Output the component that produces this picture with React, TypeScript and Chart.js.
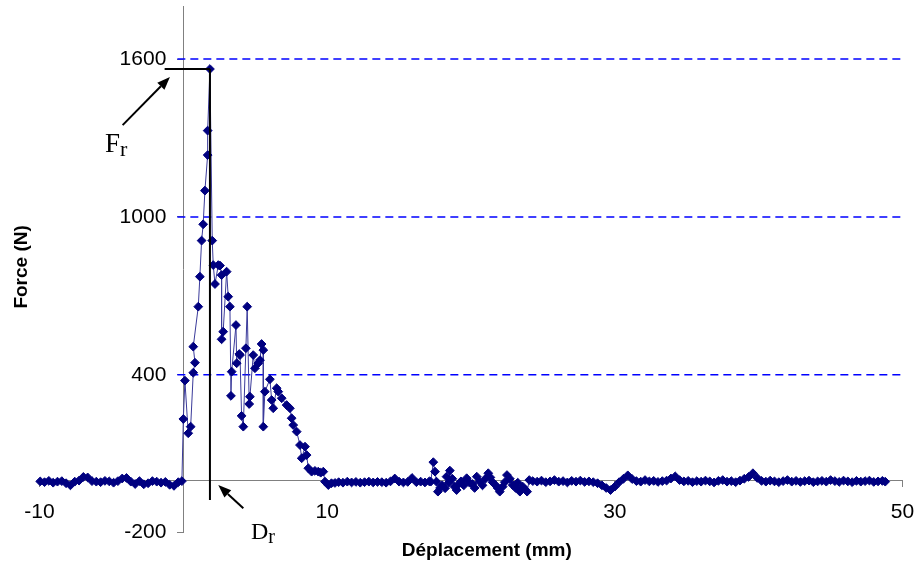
import React, { useEffect, useRef } from 'react';
import { Chart, registerables } from 'chart.js';

Chart.register(...registerables);

// ---- Data (displacement in mm, force in N) ----
const preX = [-9.95, -9.65, -9.35, -9.05, -8.75, -8.45, -8.15, -7.85, -7.55, -7.25, -6.95, -6.65, -6.35, -6.05, -5.75, -5.45, -5.15, -4.85, -4.55, -4.25, -3.95, -3.65, -3.35, -3.05, -2.75, -2.45, -2.15, -1.85, -1.55, -1.25, -0.95, -0.65, -0.35, -0.1];
const preY = [-5, -8, -3, -10, -6, -4, -12, -20, -6, -2, 12, 10, -4, -6, -8, -3, -5, -10, -4, 6, 8, -6, -15, -4, -16, -12, -4, -6, -10, -7, -18, -22, -8, -4];

const loadX = [0.0, 0.11, 0.34, 0.51, 0.69, 0.81, 0.69, 1.04, 1.15, 1.27, 1.38, 1.5, 1.69, 1.69, 1.85, 2.01, 2.08, 2.2, 2.43, 2.55, 2.66, 2.66, 2.77, 3.01, 3.12, 3.24, 3.31, 3.36, 3.66, 3.71, 3.89, 3.94, 4.05, 4.17, 4.35, 4.44, 4.58, 4.63, 4.86, 4.98, 5.21, 5.33, 5.44, 5.56, 5.56, 5.67, 6.02, 6.14, 6.25, 6.49, 6.6, 6.84, 7.18, 7.41, 7.53, 7.64, 7.88, 8.11, 8.23, 8.46, 8.57, 8.69, 8.92, 9.15, 9.38, 9.55, 9.73, 9.85, 10.08, 10.3, 10.54];
const loadY = [232, 378, 178, 203, 408, 446, 507, 659, 773, 910, 972, 1100, 1235, 1328, 1562, 910, 817, 745, 817, 815, 779, 535, 564, 792, 697, 659, 320, 412, 589, 444, 479, 475, 244, 203, 501, 659, 289, 317, 475, 425, 444, 456, 517, 494, 203, 336, 383, 304, 273, 349, 336, 311, 285, 273, 235, 209, 184, 133, 83, 127, 95, 45, 32, 35, 32, 28, 32, -6, -19, -12, -11];

const flatX = [10.8, 11.1, 11.4, 11.7, 12.0, 12.3, 12.6, 12.9, 13.2, 13.5, 13.8, 14.1, 14.4, 14.7, 15.0, 15.3, 15.6, 15.9, 16.2, 16.5, 16.8, 17.1];
const flatY = [-8, -10, -6, -9, -7, -10, -8, -6, -9, -7, -8, -10, -5, 6, -6, -9, -7, 8, -8, -6, -9, -5];

const noiseX = [17.2, 17.38, 17.5, 17.6, 17.7, 17.85, 18.0, 18.2, 18.3, 18.45, 18.53, 18.7, 18.85, 19.0, 19.15, 19.3, 19.5, 19.7, 19.9, 20.1, 20.25, 20.4, 20.6, 20.8, 21.0, 21.2, 21.35, 21.5, 21.7, 21.85, 22.0, 22.2, 22.35, 22.5, 22.7, 22.9, 23.1, 23.25, 23.4, 23.6, 23.75, 23.9, 24.05];
const noiseY = [-6, 68, 32, -6, -44, -30, -20, -31, 13, -10, 36, 5, -25, -38, -15, -5, -20, 7, -10, -15, -30, 13, -6, -20, 5, 26, 10, -8, -19, -30, -44, -25, -8, 19, 5, -19, -30, -10, -44, -25, -35, -44, 0];

const tailX = [24.3, 24.6, 24.9, 25.2, 25.5, 25.8, 26.1, 26.4, 26.7, 27.0, 27.3, 27.6, 27.9, 28.2, 28.5, 28.8, 29.1, 29.4, 29.7, 30.0, 30.3, 30.6, 30.9, 31.2, 31.5, 31.8, 32.1, 32.4, 32.7, 33.0, 33.3, 33.6, 33.9, 34.2, 34.5, 34.8, 35.1, 35.4, 35.7, 36.0, 36.3, 36.6, 36.9, 37.2, 37.5, 37.8, 38.1, 38.4, 38.7, 39.0, 39.3, 39.6, 39.9, 40.2, 40.5, 40.8, 41.1, 41.4, 41.7, 42.0, 42.3, 42.6, 42.9, 43.2, 43.5, 43.8, 44.1, 44.4, 44.7, 45.0, 45.3, 45.6, 45.9, 46.2, 46.5, 46.8, 47.1, 47.4, 47.7, 48.0, 48.3, 48.6, 48.8];
const tailY = [-4, -6, -2, -8, -5, 0, -6, -4, -9, -3, -6, -2, -7, -5, -8, -12, -20, -30, -38, -25, -8, 5, 18, 4, -4, -6, 0, -5, -3, -7, -4, -2, 6, 14, 0, -5, -3, -8, -4, -6, -2, -5, -9, -3, 0, -6, -4, -8, -2, 5, 12, 26, 8, -3, -6, -2, -5, -8, -4, 0, -6, -3, -7, -4, -2, -8, -5, -3, -6, 0, -4, -7, -2, -5, -8, -3, -6, -4, -2, -7, -5, -3, -6];

// ---- Axes ----
const xTickValues = [-10, 10, 30, 50];
const yTickValues = [-200, 400, 1000, 1600];
const gridValues = [400, 1000, 1600];

// ---- Annotations (data coordinates) ----
const peakX = 1.85; // D_r
const peakY = 1562; // F_r
const frLineStartX = -1.3;
const drLineEndY = -76;
const frArrow = { from: [-4.22, 1349], to: [-0.93, 1532] };
const drArrow = { from: [4.17, -107], to: [2.43, -19] };
const frLabel = [-5.45, 1247];
const drLabel = [4.7, -224];

const xTitle = 'Déplacement (mm)';
const yTitle = 'Force (N)';

const SANS = '"Liberation Sans", Arial, sans-serif';
const SERIF = '"Liberation Serif", "Times New Roman", serif';

function toPoints(xs: number[], ys: number[]) {
  return xs.map((x, i) => ({ x, y: ys[i] }));
}

function drawArrow(ctx: CanvasRenderingContext2D, x1: number, y1: number, x2: number, y2: number) {
  const ang = Math.atan2(y2 - y1, x2 - x1);
  const len = 13;
  const hw = 5;
  const bx = x2 - len * Math.cos(ang);
  const by = y2 - len * Math.sin(ang);
  ctx.beginPath();
  ctx.moveTo(x1, y1);
  ctx.lineTo(bx, by);
  ctx.stroke();
  ctx.beginPath();
  ctx.moveTo(x2, y2);
  ctx.lineTo(bx + hw * Math.sin(ang), by - hw * Math.cos(ang));
  ctx.lineTo(bx - hw * Math.sin(ang), by + hw * Math.cos(ang));
  ctx.closePath();
  ctx.fill();
}

const overlayPlugin = {
  id: 'overlay',
  beforeDatasetsDraw(chart: any) {
    const { ctx, chartArea, scales } = chart;
    const xs = scales.x;
    const ys = scales.y;
    ctx.save();
    ctx.strokeStyle = '#0000FF';
    ctx.lineWidth = 1.5;
    ctx.setLineDash([8, 5]);
    const startX = xs.getPixelForValue(0) - 6;
    gridValues.forEach((v) => {
      const py = ys.getPixelForValue(v);
      ctx.beginPath();
      ctx.moveTo(startX, py);
      ctx.lineTo(chartArea.right, py);
      ctx.stroke();
    });
    ctx.restore();
    // y tick labels, placed left of the y axis (which crosses at x = 0)
    ctx.save();
    ctx.fillStyle = '#000';
    ctx.font = `21px ${SANS}`;
    ctx.textAlign = 'right';
    ctx.textBaseline = 'middle';
    const labelX = xs.getPixelForValue(0) - 17;
    ys.ticks.forEach((t: any) => {
      ctx.fillText(String(t.value), labelX, ys.getPixelForValue(t.value));
    });
    ctx.restore();
  },
  afterDatasetsDraw(chart: any) {
    const { ctx, chartArea, scales } = chart;
    const xs = scales.x;
    const ys = scales.y;
    const px = (v: number) => xs.getPixelForValue(v);
    const py = (v: number) => ys.getPixelForValue(v);
    ctx.save();
    ctx.strokeStyle = '#000';
    ctx.fillStyle = '#000';
    ctx.lineWidth = 2;
    // vertical D_r line
    ctx.beginPath();
    ctx.moveTo(px(peakX), py(peakY));
    ctx.lineTo(px(peakX), py(drLineEndY));
    ctx.stroke();
    // horizontal F_r line
    ctx.beginPath();
    ctx.moveTo(px(frLineStartX), py(peakY));
    ctx.lineTo(px(peakX), py(peakY));
    ctx.stroke();
    // arrows
    drawArrow(ctx, px(frArrow.from[0]), py(frArrow.from[1]), px(frArrow.to[0]), py(frArrow.to[1]));
    drawArrow(ctx, px(drArrow.from[0]), py(drArrow.from[1]), px(drArrow.to[0]), py(drArrow.to[1]));
    // labels F_r and D_r
    ctx.textBaseline = 'alphabetic';
    ctx.textAlign = 'left';
    ctx.font = `27px ${SERIF}`;
    let lx = px(frLabel[0]);
    let ly = py(frLabel[1]);
    ctx.fillText('F', lx, ly);
    let w = ctx.measureText('F').width;
    ctx.font = `22px ${SERIF}`;
    ctx.fillText('r', lx + w, ly + 4);
    ctx.font = `24px ${SERIF}`;
    lx = px(drLabel[0]);
    ly = py(drLabel[1]);
    ctx.fillText('D', lx, ly);
    w = ctx.measureText('D').width;
    ctx.font = `20px ${SERIF}`;
    ctx.fillText('r', lx + w, ly + 4);
    // axis titles
    ctx.font = `bold 19px ${SANS}`;
    ctx.textAlign = 'center';
    ctx.textBaseline = 'middle';
    ctx.fillText(xTitle, px(21.1), chartArea.bottom + 18);
    ctx.save();
    ctx.translate(22, py(810));
    ctx.rotate(-Math.PI / 2);
    ctx.fillText(yTitle, 0, 0);
    ctx.restore();
    ctx.restore();
  },
};

export default function App() {
  const canvasRef = useRef<HTMLCanvasElement>(null);

  useEffect(() => {
    if (!canvasRef.current) return;
    const points = [
      ...toPoints(preX, preY),
      ...toPoints(loadX, loadY),
      ...toPoints(flatX, flatY),
      ...toPoints(noiseX, noiseY),
      ...toPoints(tailX, tailY),
    ];
    const tickFont = { family: SANS, size: 21 };
    const resetPadding = (s: any) => {
      s.paddingTop = 0;
      s.paddingBottom = 0;
      s.paddingLeft = 0;
      s.paddingRight = 0;
    };
    const chart = new Chart(canvasRef.current, {
      type: 'scatter',
      data: {
        datasets: [
          {
            data: points,
            showLine: true,
            borderColor: '#3a3a9a',
            borderWidth: 1,
            pointStyle: 'rectRot',
            pointRadius: 4.4,
            pointBackgroundColor: '#000080',
            pointBorderColor: '#000080',
            pointBorderWidth: 1,
            clip: false,
          } as any,
        ],
      },
      options: {
        responsive: false,
        animation: false,
        events: [],
        layout: { padding: { left: 39.5, right: 13.5, top: 6.4, bottom: 42.3 } },
        plugins: { legend: { display: false }, tooltip: { enabled: false } },
        scales: {
          x: {
            type: 'linear',
            min: -10,
            max: 50,
            position: { y: 0 } as any,
            afterBuildTicks: (s: any) => {
              s.ticks = xTickValues.map((v) => ({ value: v }));
            },
            afterFit: resetPadding,
            ticks: {
              font: tickFont,
              color: '#000',
              padding: 14,
              maxRotation: 0,
              autoSkip: false,
              callback: (v: any) => String(v),
            },
            grid: { drawOnChartArea: false, drawTicks: true, tickLength: 6, color: '#808080' },
            border: { display: true, color: '#808080', width: 1 },
          },
          y: {
            type: 'linear',
            min: -200,
            max: 1800,
            position: { x: 0 } as any,
            afterBuildTicks: (s: any) => {
              s.ticks = yTickValues.map((v) => ({ value: v }));
            },
            afterFit: resetPadding,
            ticks: { display: false, font: tickFont, autoSkip: false },
            grid: { drawOnChartArea: false, drawTicks: true, tickLength: 6, color: '#808080' },
            border: { display: true, color: '#808080', width: 1 },
          },
        },
      } as any,
      plugins: [overlayPlugin],
    });
    return () => chart.destroy();
  }, []);

  return (
    <div style={{ position: 'fixed', left: 0, top: 0, width: 916, height: 575, background: '#fff' }}>
      <canvas ref={canvasRef} width={916} height={575} style={{ display: 'block' }} />
    </div>
  );
}
